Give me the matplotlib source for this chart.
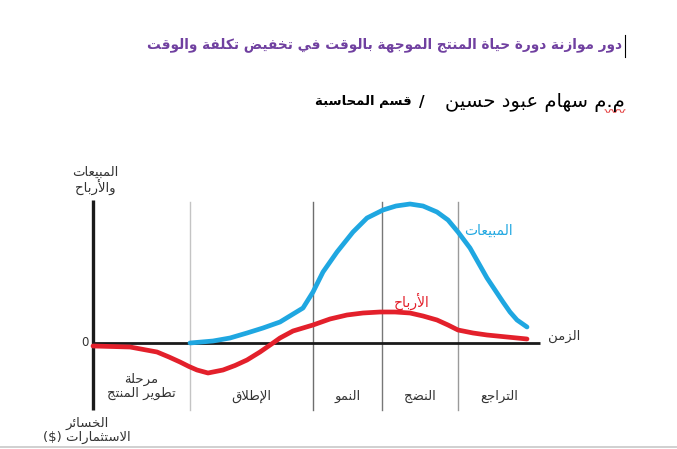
import matplotlib
matplotlib.use('Agg')
import matplotlib.pyplot as plt
import numpy as np

# Arabic shaping by hand (matplotlib has no bidi / joining support)
LETTERS = 'ءآأؤإئابةتثجحخدذرزسشصضطظعغفقكلمنهوىي'
NFORMS = [1, 2, 2, 2, 2, 4, 2, 4, 2, 4, 4, 4, 4, 4, 2, 2, 2, 2,
          4, 4, 4, 4, 4, 4, 4, 4, 4, 4, 4, 4, 4, 4, 4, 2, 2, 4]
FORMS = {}
code = 0xFE80
for ch, k in zip(LETTERS, NFORMS):
    FORMS[ch] = [chr(code + j) for j in range(k)]
    code += k
LAM_ALEF = {'آ': 0xFEF5, 'أ': 0xFEF7, 'إ': 0xFEF9, 'ا': 0xFEFB}
MIRROR = {'(': ')', ')': '('}


def dual(c):
    return c in FORMS and len(FORMS[c]) == 4


def ar(text):
    lines = []
    for line in text.split('\n'):
        res = []
        i = 0
        while i < len(line):
            c = line[i]
            prev = line[i - 1] if i > 0 else ''
            nxt = line[i + 1] if i + 1 < len(line) else ''
            left = dual(prev) and c in FORMS
            if c == 'ل' and nxt in LAM_ALEF:
                res.append(chr(LAM_ALEF[nxt] + (1 if left else 0)))
                i += 2
                continue
            if c in FORMS:
                f = FORMS[c]
                right = dual(c) and nxt in FORMS
                if len(f) == 1:
                    idx = 0
                elif len(f) == 2:
                    idx = 1 if left else 0
                else:
                    idx = 3 if (left and right) else 1 if left else 2 if right else 0
                res.append(f[idx])
            else:
                res.append(c)
            i += 1
        lines.append(''.join(MIRROR.get(c, c) for c in reversed(res)))
    return '\n'.join(lines)


# ---- data (time units, value units; 0 = break-even line) ----
sales_t = [9.7, 12.0, 13.7, 15.4, 17.0, 18.7, 21.0, 22.0, 23.0, 24.4, 26.0, 27.4,
           29.0, 30.3, 31.7, 33.0, 34.4, 35.5, 36.5, 37.7, 39.4, 40.2, 41.0,
           41.7, 42.4, 43.4]
sales_v = [0.0, 0.2, 0.5, 1.0, 1.5, 2.1, 3.5, 5.1, 7.1, 9.1, 11.1, 12.5,
           13.3, 13.7, 13.9, 13.7, 13.1, 12.3, 11.1, 9.5, 6.5, 5.3, 4.1,
           3.1, 2.3, 1.6]

profit_t = [0.0, 3.7, 6.4, 7.6, 8.7, 9.6, 10.4, 11.5, 13.0, 14.2, 15.4, 16.7,
            18.0, 18.7, 20.0, 21.0, 22.0, 23.7, 25.4, 27.0, 28.7, 30.2, 31.7,
            33.0, 34.4, 35.5, 36.5, 38.0, 39.4, 41.4, 43.4]
profit_v = [-0.3, -0.4, -0.9, -1.4, -1.9, -2.35, -2.7, -3.0, -2.7, -2.25, -1.7,
            -0.9, 0.0, 0.5, 1.2, 1.5, 1.8, 2.4, 2.8, 3.0, 3.1, 3.1, 3.0,
            2.7, 2.3, 1.8, 1.3, 1.0, 0.8, 0.6, 0.4]

stage_edges = [0.0, 9.7, 22.0, 28.9, 36.5, 44.7]
stage_names = ['مرحلة\nتطوير المنتج', 'الإطلاق', 'النمو', 'النضج', 'التراجع']
edge_colors = ['#c4c4c4', '#6e6e6e', '#777777', '#9a9a9a']

title = 'دور موازنة دورة حياة المنتج الموجهة بالوقت في تخفيض تكلفة والوقت'
author = 'م.م سهام عبود حسين'
dept = 'قسم المحاسبة'

plt.rcParams['font.family'] = ['DejaVu Sans']

fig = plt.figure(figsize=(6.77, 4.49), dpi=100)
ax = fig.add_axes([0, 0, 1, 1])
ax.set_xlim(-9.3, 58.4)
ax.set_ylim(-10.6, 34.3)
ax.axis('off')

# stage separators
for x, c in zip(stage_edges[1:-1], edge_colors):
    ax.plot([x, x], [-6.7, 14.1], color=c, lw=1.0, zorder=1)

# axes
ax.plot([0, 0], [-6.7, 14.3], color='#1a1a1a', lw=2.4, solid_capstyle='butt', zorder=3)
ax.plot([0, stage_edges[-1]], [0, 0], color='#1a1a1a', lw=2.0, solid_capstyle='butt', zorder=3)

# curves
ax.plot(sales_t, sales_v, color='#1fa7e1', lw=3.4, solid_capstyle='round',
        solid_joinstyle='round', zorder=4)
ax.plot(profit_t, profit_v, color='#e3202b', lw=3.4, solid_capstyle='round',
        solid_joinstyle='round', zorder=4)

txt = '#333333'
fs = 9.5
ax.text(0.2, 16.2, ar('المبيعات\nوالأرباح'), ha='center', va='center', fontsize=fs,
        color=txt, linespacing=1.1)
ax.text(-0.6, -8.7, ar('الخسائر\nالاستثمارات ($)'), ha='center', va='center', fontsize=fs,
        color=txt, linespacing=1.1)
ax.text(-0.8, 0, '0', ha='center', va='center', fontsize=8.5, color=txt)
ax.text(47.1, 0.7, ar('الزمن'), ha='center', va='center', fontsize=fs, color=txt)
ax.text(39.5, 11.2, ar('المبيعات'), ha='center', va='center', fontsize=fs + 0.5,
        color='#1fa7e1')
ax.text(31.9, 4.2, ar('الأرباح'), ha='center', va='center', fontsize=fs + 0.5,
        color='#e3202b')

for a, b, name in zip(stage_edges[:-1], stage_edges[1:], stage_names):
    y = -4.3 if '\n' in name else -5.3
    ax.text((a + b) / 2, y, ar(name), ha='center', va='center', fontsize=fs,
            color=txt, linespacing=1.1)

# header
ax.text(52.9, 29.8, ar(title), ha='right', va='center', fontsize=9.8,
        fontweight='bold', color='#7040a0')
ax.plot([53.2, 53.2], [28.6, 30.8], color='black', lw=0.8)
ax.text(53.2, 24.1, ar(author), ha='right', va='center', fontsize=14, color='black')
ax.text(32.9, 24.1, '/', ha='center', va='center', fontsize=11, fontweight='bold')
ax.text(31.9, 24.1, ar(dept), ha='right', va='center', fontsize=9.5, fontweight='bold')
wx = np.linspace(51.2, 53.2, 25)
ax.plot(wx, 23.2 + 0.12 * np.sign(np.sin(wx * 9)), color='#e02020', lw=0.6)

# bottom border
ax.axhline(-10.4, color='#c8c8c8', lw=1.2)

fig.savefig('out.png', dpi=100)
